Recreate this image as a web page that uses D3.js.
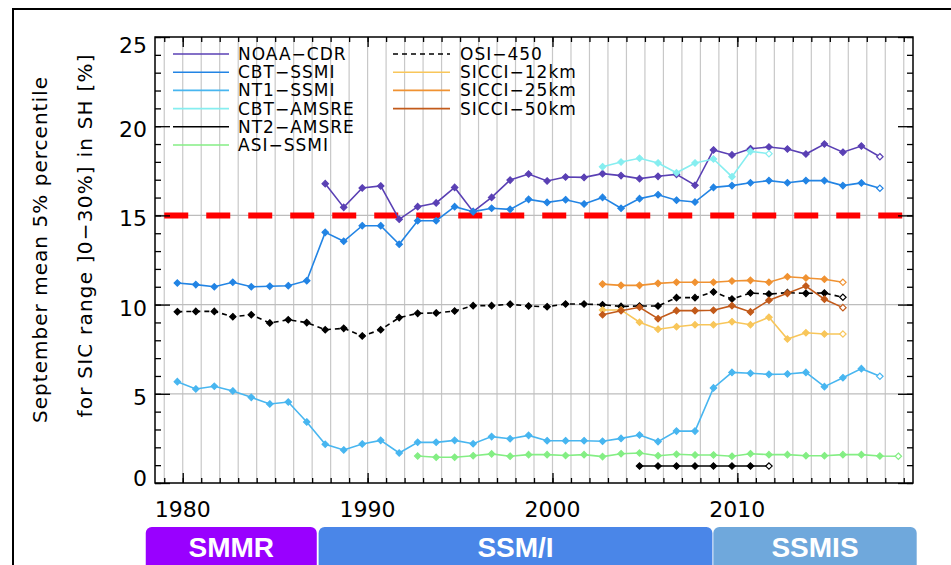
<!DOCTYPE html>
<html>
<head>
<meta charset="utf-8">
<script src="https://cdn.jsdelivr.net/npm/d3@7"></script>
<style>
  html, body { margin: 0; padding: 0; background: #fff; }
  svg { display: block; }
  text { font-family: "DejaVu Sans", sans-serif; fill: #000; }
</style>
</head>
<body>
<svg id="chart" width="951" height="565"></svg>
<script>
// September mean 5% percentile of SIC in ]0-30%], Southern Hemisphere, per product
const noaaCdrStart = 1987;
const noaaCdr = [16.78,15.45,16.54,16.65,14.78,15.49,15.70,16.57,15.21,16.01,16.98,17.32,16.93,17.15,
                 17.13,17.34,17.23,17.06,17.19,17.30,16.69,18.67,18.39,18.74,18.83,18.72,18.44,19.00,18.54,18.89,18.29];
const cbtSsmiStart = 1979;
const cbtSsmi = [11.21,11.12,11.00,11.25,11.00,11.03,11.06,11.34,14.05,13.55,14.42,14.42,13.38,14.70,14.70,15.49,15.21,15.40,15.34,15.90,15.73,
                 15.88,15.64,16.01,15.40,15.94,16.16,15.85,15.75,16.57,16.67,16.83,16.95,16.83,16.95,16.95,16.67,16.82,16.52];
const nt1SsmiStart = 1979;
const nt1Ssmi = [5.68,5.27,5.42,5.16,4.80,4.43,4.54,3.42,2.17,1.85,2.19,2.39,1.68,2.28,2.28,2.39,2.20,2.60,2.48,2.67,2.37,
                 2.37,2.37,2.34,2.50,2.69,2.32,2.91,2.91,5.33,6.20,6.15,6.09,6.11,6.20,5.40,5.90,6.41,5.98];
const cbtAmsreStart = 2002;
const cbtAmsre = [17.73,17.99,18.20,17.94,17.39,17.94,18.16,17.17,18.59,18.46];
const nt2AmsreStart = 2004;
const nt2Amsre = [0.95,0.95,0.95,0.95,0.95,0.95,0.95,0.95];
const asiSsmiStart = 1992;
const asiSsmi = [1.51,1.44,1.44,1.53,1.63,1.50,1.59,1.59,
                 1.54,1.59,1.48,1.64,1.68,1.53,1.61,1.57,1.57,1.50,1.64,1.59,1.59,1.53,1.53,1.59,1.59,1.51,1.50];
const osi450Start = 1979;
const osi450 = [9.60,9.62,9.62,9.32,9.43,8.97,9.15,8.99,8.59,8.67,8.24,8.59,9.27,9.51,9.53,9.64,9.94,9.94,10.02,9.92,9.88,
                10.03,10.03,9.99,9.90,9.92,9.92,10.39,10.39,10.71,10.31,10.65,10.59,10.67,10.63,10.65,10.41];
const sicci12Start = 2002;
const sicci12 = [9.70,9.70,9.01,8.62,8.76,8.87,8.87,9.04,8.87,9.29,8.07,8.42,8.35,8.35];
const sicci25Start = 2002;
const sicci25 = [11.15,11.08,11.08,11.19,11.25,11.25,11.25,11.32,11.36,11.25,11.56,11.49,11.42,11.25];
const sicci50Start = 2002;
const sicci50 = [9.43,9.66,9.85,9.21,9.66,9.66,9.68,9.94,9.59,10.24,10.63,11.04,10.30,9.83];

// Threshold line
const thresholdValue = 15;

// Axis ticks
const yTickLabels = [0, 5, 10, 15, 20, 25];
const yGridValues = [5, 10, 15];
const xTickLabels = [1980, 1990, 2000, 2010];

// Sensor eras (fractional years)
const sensorNames = ["SMMR", "SSM/I", "SSMIS"];
const sensorStart = [1978.0, 1987.35, 2008.7];
const sensorEnd   = [1987.25, 2008.65, 2019.7];

const series = [
  { name: "NOAA\u2212CDR",   start: noaaCdrStart,  values: noaaCdr,  color: "#5a40b4", dash: null, col: 0, row: 0 },
  { name: "CBT\u2212SSMI",   start: cbtSsmiStart,  values: cbtSsmi,  color: "#2284e4", dash: null, col: 0, row: 1 },
  { name: "NT1\u2212SSMI",   start: nt1SsmiStart,  values: nt1Ssmi,  color: "#48b6f0", dash: null, col: 0, row: 2 },
  { name: "CBT\u2212AMSRE",  start: cbtAmsreStart, values: cbtAmsre, color: "#86eef0", dash: null, col: 0, row: 3 },
  { name: "NT2\u2212AMSRE",  start: nt2AmsreStart, values: nt2Amsre, color: "#000000", dash: null, col: 0, row: 4 },
  { name: "ASI\u2212SSMI",   start: asiSsmiStart,  values: asiSsmi,  color: "#84ee84", dash: null, col: 0, row: 5 },
  { name: "OSI\u2212450",    start: osi450Start,   values: osi450,   color: "#000000", dash: "5,4", col: 1, row: 0 },
  { name: "SICCI\u221212km", start: sicci12Start,  values: sicci12,  color: "#f8c65a", dash: null, col: 1, row: 1 },
  { name: "SICCI\u221225km", start: sicci25Start,  values: sicci25,  color: "#f09232", dash: null, col: 1, row: 2 },
  { name: "SICCI\u221250km", start: sicci50Start,  values: sicci50,  color: "#c25a1a", dash: null, col: 1, row: 3 }
];
const sensorColors = ["#9900ff", "#4a86e8", "#6fa8dc"];

const svg = d3.select("#chart");
const W = 951, H = 565;
const plot = { left: 155, right: 913, top: 37, bottom: 483 };

const x = d3.scaleLinear().domain([1978.5, 2019.5]).range([plot.left, plot.right]);
const y = d3.scaleLinear().domain([0, 25]).range([plot.bottom, plot.top]);
const monthOffset = 8.5 / 12; // September mean placed mid-September

const years = d3.range(1979, 2020);
const minorY = d3.range(0, 26);

// Outer frame
svg.append("path")
  .attr("d", `M13,${H} V9 H${W}`)
  .attr("fill", "none").attr("stroke", "#000").attr("stroke-width", 2);

// Vertical grid lines (every year)
svg.append("g").selectAll("line").data(years).join("line")
  .attr("x1", d => x(d)).attr("x2", d => x(d))
  .attr("y1", plot.top).attr("y2", plot.bottom)
  .attr("stroke", "#c8c8c8").attr("stroke-width", 1.2);

// Horizontal grid lines
svg.append("g").selectAll("line").data(yGridValues).join("line")
  .attr("x1", plot.left).attr("x2", plot.right)
  .attr("y1", d => y(d)).attr("y2", d => y(d))
  .attr("stroke", "#bdbdbd").attr("stroke-width", 1.2);

// Threshold at 15 %
svg.append("line")
  .attr("x1", x(1979)).attr("x2", x(2019))
  .attr("y1", y(thresholdValue)).attr("y2", y(thresholdValue))
  .attr("stroke", "#ff0000").attr("stroke-width", 6)
  .attr("stroke-dasharray", "24,18");

// Axes with inward ticks
function styleAxis(g) {
  g.select(".domain").remove();
  g.selectAll(".tick line").attr("stroke", "#000").attr("stroke-width", 1.3);
  g.selectAll(".tick text").remove();
}
svg.append("g").attr("transform", `translate(0,${plot.bottom})`)
  .call(d3.axisTop(x).tickValues(years).tickSize(5).tickFormat("")).call(styleAxis);
svg.append("g").attr("transform", `translate(0,${plot.bottom})`)
  .call(d3.axisTop(x).tickValues(xTickLabels).tickSize(10).tickFormat("")).call(styleAxis);
svg.append("g").attr("transform", `translate(0,${plot.top})`)
  .call(d3.axisBottom(x).tickValues(years).tickSize(5).tickFormat("")).call(styleAxis);
svg.append("g").attr("transform", `translate(0,${plot.top})`)
  .call(d3.axisBottom(x).tickValues(xTickLabels).tickSize(10).tickFormat("")).call(styleAxis);
svg.append("g").attr("transform", `translate(${plot.left},0)`)
  .call(d3.axisRight(y).tickValues(minorY).tickSize(6).tickFormat("")).call(styleAxis);
svg.append("g").attr("transform", `translate(${plot.left},0)`)
  .call(d3.axisRight(y).tickValues(yTickLabels).tickSize(15).tickFormat("")).call(styleAxis);
svg.append("g").attr("transform", `translate(${plot.right},0)`)
  .call(d3.axisLeft(y).tickValues(minorY).tickSize(6).tickFormat("")).call(styleAxis);
svg.append("g").attr("transform", `translate(${plot.right},0)`)
  .call(d3.axisLeft(y).tickValues(yTickLabels).tickSize(15).tickFormat("")).call(styleAxis);

// Plot frame
svg.append("rect")
  .attr("x", plot.left).attr("y", plot.top)
  .attr("width", plot.right - plot.left).attr("height", plot.bottom - plot.top)
  .attr("fill", "none").attr("stroke", "#000").attr("stroke-width", 1.5);

// Y tick labels
svg.append("g").selectAll("text").data(yTickLabels).join("text")
  .attr("x", 147)
  .attr("y", d => y(d) + (d === 25 ? 16 : d === 0 ? 3 : 11))
  .attr("text-anchor", "end")
  .attr("font-size", 22)
  .text(d => d);

// X tick labels
svg.append("g").selectAll("text").data(xTickLabels).join("text")
  .attr("x", d => x(d)).attr("y", 517)
  .attr("text-anchor", "middle")
  .attr("font-size", 22)
  .text(d => d);

// Y axis title (two lines)
svg.append("text")
  .attr("transform", "translate(47,250) rotate(-90)")
  .attr("text-anchor", "middle").attr("font-size", 20)
  .attr("textLength", 346).attr("lengthAdjust", "spacing")
  .text("September mean 5% percentile");
svg.append("text")
  .attr("transform", "translate(92,236) rotate(-90)")
  .attr("text-anchor", "middle").attr("font-size", 20)
  .attr("textLength", 363).attr("lengthAdjust", "spacing")
  .text("for SIC range ]0\u221230%] in SH [%]");

// Series lines and markers
const line = d3.line().x(d => x(d.year + monthOffset)).y(d => y(d.value));
const diamond = (cx, cy, r) => `M${cx},${cy - r}L${cx + r},${cy}L${cx},${cy + r}L${cx - r},${cy}Z`;

series.forEach(s => {
  const pts = s.values.map((v, i) => ({ year: s.start + i, value: v }));
  const g = svg.append("g");
  g.append("path").datum(pts)
    .attr("d", line)
    .attr("fill", "none")
    .attr("stroke", s.color).attr("stroke-width", 1.6)
    .attr("stroke-dasharray", s.dash);
  g.selectAll("path.m").data(pts).join("path").attr("class", "m")
    .attr("d", d => diamond(x(d.year + monthOffset), y(d.value), 3.2))
    .attr("fill", (d, i) => i === pts.length - 1 ? "#fff" : s.color)
    .attr("stroke", s.color).attr("stroke-width", 1.2);
});

// Legend
const legendCols = [{ x1: 173, x2: 229, tx: 238 }, { x1: 393, x2: 450, tx: 460 }];
const legend = svg.append("g");
series.forEach(s => {
  const c = legendCols[s.col];
  const ly = 54 + s.row * 18.2;
  legend.append("line")
    .attr("x1", c.x1).attr("x2", c.x2).attr("y1", ly).attr("y2", ly)
    .attr("stroke", s.color).attr("stroke-width", 1.6)
    .attr("stroke-dasharray", s.dash);
  legend.append("text")
    .attr("x", c.tx).attr("y", ly + 6)
    .attr("font-size", 17)
    .attr("letter-spacing", 1)
    .text(s.name);
});

// Sensor era bars
const bars = svg.append("g");
sensorNames.forEach((name, i) => {
  const x0 = x(sensorStart[i]), x1 = x(sensorEnd[i]);
  bars.append("rect")
    .attr("x", x0).attr("y", 527)
    .attr("width", x1 - x0).attr("height", 50)
    .attr("rx", 6).attr("ry", 6)
    .attr("fill", sensorColors[i]);
  bars.append("text")
    .attr("x", (x0 + x1) / 2).attr("y", 557)
    .attr("text-anchor", "middle")
    .style("font-family", "'Liberation Sans', Arial, sans-serif")
    .style("font-weight", "bold")
    .style("fill", "#fff")
    .attr("font-size", 28)
    .text(name);
});
</script>
</body>
</html>
